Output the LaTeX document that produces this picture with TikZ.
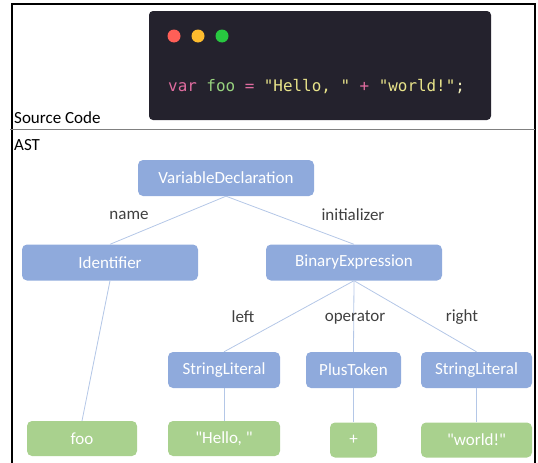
\documentclass[tikz,border=0pt]{standalone}
\usepackage{fontspec}
\setmainfont{Carlito}
\newfontfamily\astfont{Carlito}
\setmonofont{DejaVu Sans Mono}
\usepackage{tikz}
\definecolor{astblue}{HTML}{8FAADC}
\definecolor{astgreen}{HTML}{A9D18E}
\definecolor{edgeblue}{HTML}{B4C7E7}
\definecolor{labelgray}{HTML}{404040}
\definecolor{codebg}{HTML}{24222D}
\definecolor{codepink}{HTML}{E06C9F}
\definecolor{codegreen}{HTML}{98D37F}
\definecolor{codeyellow}{HTML}{E8E38A}
\definecolor{dotred}{HTML}{FF5F57}
\definecolor{dotyellow}{HTML}{FEBC2E}
\definecolor{dotgreen}{HTML}{28C840}

\begin{document}
\begin{tikzpicture}[x=1pt, y=-1pt,
    astnode/.style={rectangle, rounded corners=5pt, fill=astblue, text=white,
        minimum height=36pt, inner sep=0pt, font=\astfont\fontsize{17}{20}\selectfont},
    leafnode/.style={astnode, fill=astgreen, minimum height=35pt},
    edge/.style={edgeblue, line width=0.8pt},
    edgelabel/.style={text=labelgray, font=\fontsize{17}{20}\selectfont},
    caption/.style={anchor=base west, inner sep=0pt, font=\fontsize{17}{20}\selectfont}]
    \useasboundingbox (0, 0) rectangle (538, 463);

    % Frame
    \draw[line width=1.3pt] (12, 463) -- (12, 4) -- (535, 4) -- (535, 463);
    \draw[gray, line width=0.8pt] (10, 129) -- (535, 129);

    % Source code window
    \fill[codebg, rounded corners=4pt] (149, 11) rectangle (491, 120);
    \fill[dotred] (174, 36) circle (6.5);
    \fill[dotyellow] (198, 36) circle (6.5);
    \fill[dotgreen] (222, 36) circle (6.5);
    \node[anchor=base west, inner sep=0pt, font=\fontsize{15.9}{20}\ttfamily] (code) at (168, 91)
        {\textcolor{codepink}{var} \textcolor{codegreen}{foo} \textcolor{codepink}{=}
         \textcolor{codeyellow}{"Hello, "} \textcolor{codepink}{+}
         \textcolor{codeyellow}{"world!"}\textcolor{codeyellow!60!white}{;}};

    % Section captions
    \node[caption] (src) at (14, 123) {Source Code};
    \node[caption] (ast) at (14, 150) {AST};

    % Tree nodes
    \node[astnode, minimum width=176pt] (vardecl) at (226, 178) {VariableDeclaration};
    \node[astnode, minimum width=176pt] (ident) at (110, 262.5) {Identifier};
    \node[astnode, minimum width=176pt] (binexpr) at (354, 262.5) {BinaryExpression};
    \node[astnode, minimum width=112pt] (strleft) at (224, 370) {StringLiteral};
    \node[astnode, minimum width=95pt] (plus) at (353.5, 370) {PlusToken};
    \node[astnode, minimum width=111pt] (strright) at (476.5, 370) {StringLiteral};

    % Leaves
    \node[leafnode, minimum width=110pt] (foo) at (82, 438.5) {foo};
    \node[leafnode, minimum width=112pt] (hello) at (224, 438.5) {"Hello, "};
    \node[leafnode, minimum width=47pt] (plustok) at (353.5, 440) {+};
    \node[leafnode, minimum width=111pt] (world) at (476.5, 440) {"world!"};

    % Edges
    \draw[edge] (vardecl.south) -- (ident.north);
    \draw[edge] (vardecl.south) -- (binexpr.north);
    \draw[edge] (ident.south) -- (foo.north);
    \draw[edge] (binexpr.south) -- (strleft.north);
    \draw[edge] (binexpr.south) -- (plus.north);
    \draw[edge] (binexpr.south) -- (strright.north);
    \draw[edge] (strleft.south) -- (hello.north);
    \draw[edge] (plus.south) -- (plustok.north);
    \draw[edge] (strright.south) -- (world.north);

    % Edge labels
    \node[edgelabel] (lname) at (129, 215) {name};
    \node[edgelabel] (linit) at (353, 215) {initializer};
    \node[edgelabel] (lleft) at (243, 317) {left};
    \node[edgelabel] (lop) at (355, 317) {operator};
    \node[edgelabel] (lright) at (462, 317) {right};
\end{tikzpicture}
\end{document}
